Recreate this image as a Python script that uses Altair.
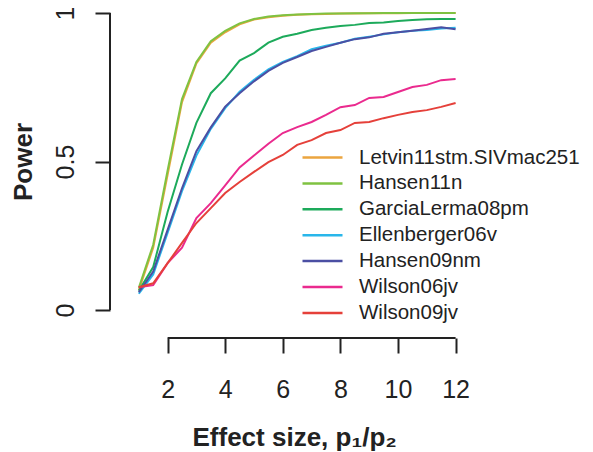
import altair as alt
import pandas as pd

# ---- data ----
effect = [1, 1.5, 2, 2.5, 3, 3.5, 4, 4.5, 5, 5.5, 6, 6.5, 7, 7.5, 8, 8.5,
          9, 9.5, 10, 10.5, 11, 11.5, 12]

series_names = ["Letvin11stm.SIVmac251", "Hansen11n", "GarciaLerma08pm",
                "Ellenberger06v", "Hansen09nm", "Wilson06jv", "Wilson09jv"]
series_colors = ["#EBA53F", "#7FC241", "#1DAA5B", "#29B6EA", "#4B4FA3",
                 "#EA2A8E", "#E5403A"]

letvin = [0.067, 0.21, 0.455, 0.70, 0.83, 0.90, 0.935, 0.962, 0.978, 0.986,
          0.991, 0.994, 0.996, 0.997, 0.998, 0.998, 0.999, 0.999, 0.999,
          1.0, 1.0, 1.0, 1.0]
hansen11n = [0.075, 0.22, 0.47, 0.71, 0.835, 0.905, 0.94, 0.965, 0.98, 0.988,
             0.992, 0.995, 0.997, 0.998, 0.998, 0.999, 0.999, 1.0, 1.0, 1.0,
             1.0, 1.0, 1.0]
garcia = [0.065, 0.145, 0.33, 0.49, 0.63, 0.73, 0.78, 0.84, 0.865, 0.90,
          0.92, 0.93, 0.943, 0.95, 0.956, 0.96, 0.966, 0.968, 0.973, 0.976,
          0.979, 0.98, 0.98]
ellenberger = [0.055, 0.12, 0.26, 0.40, 0.52, 0.61, 0.68, 0.735, 0.775, 0.81,
               0.835, 0.855, 0.878, 0.89, 0.90, 0.913, 0.92, 0.928, 0.935,
               0.94, 0.943, 0.948, 0.95]
hansen09nm = [0.06, 0.13, 0.27, 0.41, 0.535, 0.615, 0.685, 0.73, 0.77, 0.805,
              0.832, 0.852, 0.872, 0.886, 0.90, 0.912, 0.918, 0.93, 0.935,
              0.94, 0.946, 0.952, 0.945]
wilson06 = [0.077, 0.084, 0.158, 0.21, 0.31, 0.36, 0.42, 0.48, 0.52, 0.56,
            0.596, 0.616, 0.633, 0.657, 0.683, 0.69, 0.714, 0.717, 0.734,
            0.751, 0.758, 0.774, 0.778]
wilson09 = [0.077, 0.09, 0.158, 0.226, 0.293, 0.343, 0.394, 0.431, 0.465,
            0.498, 0.522, 0.556, 0.572, 0.596, 0.606, 0.63, 0.633, 0.646,
            0.657, 0.667, 0.673, 0.684, 0.697]

series_values = [letvin, hansen11n, garcia, ellenberger, hansen09nm,
                 wilson06, wilson09]

x_ticks = [2, 4, 6, 8, 10, 12]
y_ticks = [0, 0.5, 1]

X_DOMAIN = [0, 12.5]
Y_DOMAIN = [-0.094, 1.0168]

FONT = "Liberation Sans"
INK = "#222222"

rows = []
for order, (name, vals) in enumerate(zip(series_names, series_values)):
    for xv, yv in zip(effect, vals):
        rows.append({"series": name, "order": order, "x": xv, "y": yv})
df = pd.DataFrame(rows)

xscale = alt.Scale(domain=X_DOMAIN, nice=False, zero=False)
yscale = alt.Scale(domain=Y_DOMAIN, nice=False, zero=False)

x_axis = alt.Axis(values=x_ticks, format="d", domain=False, grid=False,
                  tickSize=15, tickWidth=2, tickColor=INK,
                  labelFontSize=25, labelFont=FONT, labelColor=INK,
                  labelBaseline="alphabetic", labelPadding=44,
                  title="Effect size, p\u2081/p\u2082", titleFont=FONT,
                  titleFontSize=26, titleFontWeight="bold", titleColor=INK,
                  titleAlign="left", titleBaseline="alphabetic",
                  titleX=82, titleY=107)
y_axis = alt.Axis(values=y_ticks, format="~g", domain=False, grid=False,
                  tickSize=15, tickWidth=2, tickColor=INK,
                  labelFontSize=25, labelFont=FONT, labelColor=INK,
                  labelAngle=270, labelAlign="center",
                  labelBaseline="alphabetic", labelPadding=22,
                  title="Power", titleFont=FONT, titleFontSize=26,
                  titleFontWeight="bold", titleColor=INK, titleAngle=270,
                  titleAlign="center", titleBaseline="alphabetic",
                  titleX=-79, titleY=153.5)

lines = alt.Chart(df).mark_line(strokeWidth=2).encode(
    x=alt.X("x:Q", scale=xscale, axis=x_axis),
    y=alt.Y("y:Q", scale=yscale, axis=y_axis),
    color=alt.Color(
        "series:N",
        scale=alt.Scale(domain=series_names, range=series_colors),
        legend=alt.Legend(
            title=None, orient="none", legendX=201, legendY=138,
            symbolType="M-2,0H2", symbolSize=400, symbolStrokeWidth=2.5,
            labelFont=FONT, labelFontSize=20.5, labelColor=INK,
            labelOffset=25, labelLimit=0, rowPadding=3.9, padding=0,
        ),
    ),
    order=alt.Order("order:Q"),
)

# R-style axis lines spanning only the tick range
xline_df = pd.DataFrame({"x": [min(x_ticks)], "x2": [max(x_ticks)],
                         "y": [Y_DOMAIN[0]]})
yline_df = pd.DataFrame({"y": [min(y_ticks)], "y2": [max(y_ticks)],
                         "x": [X_DOMAIN[0]]})

xline = alt.Chart(xline_df).mark_rule(color=INK, strokeWidth=2).encode(
    x=alt.X("x:Q", scale=xscale), x2="x2:Q",
    y=alt.Y("y:Q", scale=yscale))
yline = alt.Chart(yline_df).mark_rule(color=INK, strokeWidth=2).encode(
    y=alt.Y("y:Q", scale=yscale), y2="y2:Q",
    x=alt.X("x:Q", scale=xscale))

chart = alt.layer(lines, xline, yline).properties(
    width=360, height=330,
    autosize=alt.AutoSizeParams(type="none"),
    padding={"left": 102, "top": 0, "right": 115, "bottom": 120},
    background="white",
).configure_view(stroke=None)

chart.save("out.html", embed_options={"renderer": "svg", "actions": False})
